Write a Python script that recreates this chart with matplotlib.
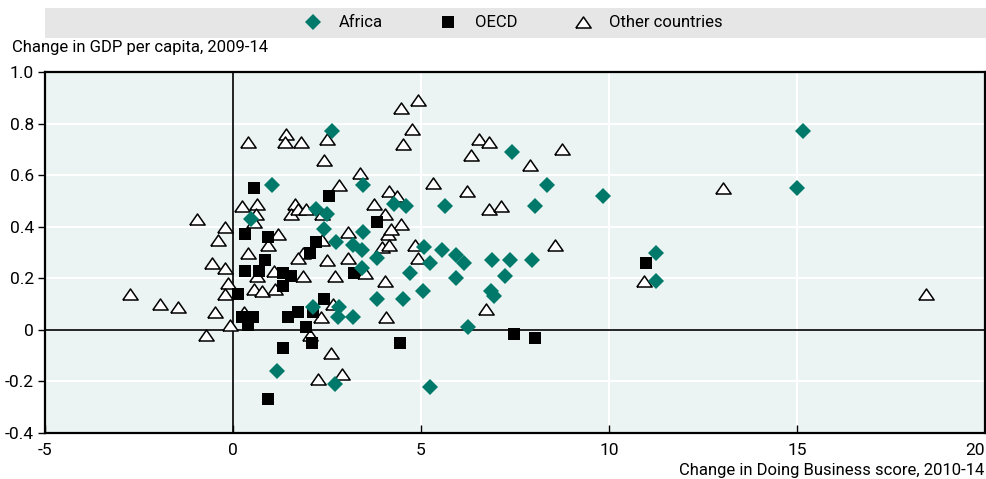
import matplotlib
matplotlib.use('Agg')
import matplotlib.pyplot as plt
from matplotlib.patches import Rectangle

plt.rcParams['font.family'] = ['Roboto', 'DejaVu Sans']

# Africa
africa_x = [2.62, 1.05, 3.47, 0.47, 2.22, 2.51, 2.41, 3.47, 2.75, 3.20, 3.42, 3.42, 2.14, 2.81,
            2.78, 3.20, 1.16, 2.70, 7.43, 8.34, 9.83, 4.27, 4.61, 5.63, 8.02, 3.84, 5.07, 5.57,
            5.92, 6.13, 5.25, 4.72, 5.92, 6.88, 7.36, 7.94, 7.22, 6.85, 6.95, 5.04, 4.53, 3.84,
            6.24, 5.25, 15.15, 15.00, 11.24, 11.25]
africa_y = [0.77, 0.56, 0.56, 0.43, 0.47, 0.45, 0.39, 0.38, 0.34, 0.33, 0.31, 0.24, 0.09, 0.09,
            0.05, 0.05, -0.16, -0.21, 0.69, 0.56, 0.52, 0.49, 0.48, 0.48, 0.48, 0.28, 0.32, 0.31,
            0.29, 0.26, 0.26, 0.22, 0.20, 0.27, 0.27, 0.27, 0.21, 0.15, 0.13, 0.15, 0.12, 0.12,
            0.01, -0.22, 0.77, 0.55, 0.30, 0.19]

# OECD
oecd_x = [0.57, 2.54, 0.33, 0.92, 2.22, 2.06, 0.84, 0.33, 0.68, 1.34, 1.53, 3.23, 1.34, 0.12,
          2.41, 1.72, 1.45, 2.14, 0.25, 0.52, 0.39, 1.93, 2.09, 1.34, 0.92, 3.84, 4.45, 7.46,
          8.02, 10.97]
oecd_y = [0.55, 0.52, 0.37, 0.36, 0.34, 0.30, 0.27, 0.23, 0.23, 0.22, 0.21, 0.22, 0.17, 0.14,
          0.12, 0.07, 0.05, 0.07, 0.05, 0.05, 0.02, 0.01, -0.05, -0.07, -0.27, 0.42, -0.05, -0.015,
          -0.03, 0.26]

# Other countries
other_x = [0.41, 1.40, 1.37, 1.80, 2.51, 2.41, 3.39, 2.81,
           0.25, 0.63, 0.60, 0.55, 1.64, 1.53, 1.74, 1.93, 2.38, 3.07, 2.38, 1.85, 1.72, 2.51,
           3.07, 2.70, 3.52,
           -0.97, -0.20, -0.41, -0.57, -0.20, -0.12, -0.20, -1.47, -0.47, -0.07, -2.75, -1.95, -0.73,
           1.21, 0.92, 0.41, 0.63, 1.08, 1.85, 0.55, 0.78, 1.13, 2.65, 2.33, 0.28,
           2.04, 2.60, 2.25, 2.91,
           4.48, 4.91, 4.77, 4.53, 6.55, 6.80, 6.34, 7.91, 8.76, 5.31, 6.21, 4.16, 4.35, 3.74,
           6.80, 7.14,
           4.03, 4.48, 4.11, 4.20, 3.95, 4.16, 4.85, 4.91, 4.03, 8.55, 4.08, 6.74,
           13.02, 10.92, 18.44]
other_y = [0.73, 0.76, 0.73, 0.73, 0.74, 0.66, 0.61, 0.56,
           0.48, 0.49, 0.45, 0.42, 0.49, 0.45, 0.47, 0.47, 0.45, 0.38, 0.35, 0.30, 0.28, 0.27,
           0.28, 0.21, 0.22,
           0.43, 0.40, 0.35, 0.26, 0.24, 0.18, 0.14, 0.09, 0.07, 0.02, 0.14, 0.10, -0.02,
           0.37, 0.33, 0.30, 0.21, 0.23, 0.21, 0.16, 0.15, 0.16, 0.10, 0.05, 0.07,
           -0.02, -0.09, -0.19, -0.17,
           0.86, 0.89, 0.78, 0.72, 0.74, 0.73, 0.68, 0.64, 0.70, 0.57, 0.54, 0.54, 0.52, 0.49,
           0.47, 0.48,
           0.45, 0.41, 0.37, 0.39, 0.32, 0.33, 0.33, 0.28, 0.19, 0.33, 0.05, 0.08,
           0.55, 0.19, 0.14]

x_ticks = [-5, 0, 5, 10, 15, 20]
y_ticks = [-0.4, -0.2, 0, 0.2, 0.4, 0.6, 0.8, 1.0]
y_labels = ['-0.4', '-0.2', '0', '0.2', '0.4', '0.6', '0.8', '1.0']

teal = '#00796A'
# wide, flat triangle marker
tri = [(-1, -0.72), (1, -0.72), (0, 0.72), (-1, -0.72)]

fig = plt.figure(figsize=(9.86, 4.79), dpi=100)
ax = fig.add_axes([0.0456, 0.096, 0.9535, 0.7537])
ax.set_facecolor('#EBF4F2')

# legend band
fig.patches.append(Rectangle((0.0456, 0.921), 0.9544, 0.062, transform=fig.transFigure,
                             facecolor='#E6E6E6', edgecolor='none', zorder=0))

for v in y_ticks:
    ax.axhline(v, color='white', lw=1.5, zorder=1)
for v in [5, 10, 15]:
    ax.axvline(v, color='white', lw=1.5, zorder=1)
ax.axhline(0, color='black', lw=1.2, zorder=2)
ax.axvline(0, color='black', lw=1.2, zorder=2)

ax.plot(other_x, other_y, linestyle='none', marker=tri, ms=11, mfc='white', mec='black',
        mew=1.1, zorder=3, label='Other countries')
ax.plot(oecd_x, oecd_y, linestyle='none', marker='s', ms=8, mfc='black', mec='black',
        mew=0, zorder=4, label='OECD')
ax.plot(africa_x, africa_y, linestyle='none', marker='D', ms=8.3, mfc=teal, mec=teal,
        mew=0, zorder=4, label='Africa')

ax.set_xlim(-5, 20)
ax.set_ylim(-0.4, 1.0)
ax.set_xticks(x_ticks)
ax.set_xticklabels([str(t) for t in x_ticks])
ax.get_xticklabels()[-1].set_ha('right')
ax.set_yticks(y_ticks)
ax.set_yticklabels(y_labels)
ax.tick_params(axis='x', direction='in', length=6, width=1, labelsize=12.5, pad=7)
ax.tick_params(axis='y', direction='out', length=5, width=1, labelsize=12.5, pad=3)
for s in ax.spines.values():
    s.set_linewidth(1.6)
    s.set_color('black')

handles, labels = ax.get_legend_handles_labels()
order = [2, 1, 0]
fig.legend([handles[i] for i in order], [labels[i] for i in order], loc='center',
           bbox_to_anchor=(0.52, 0.952), ncol=3, frameon=False, fontsize=12,
           handletextpad=1.0, columnspacing=3.3, handlelength=1.2)

fig.text(0.012, 0.9, 'Change in GDP per capita, 2009-14', fontsize=12, va='center', ha='left')
fig.text(0.998, 0.018, 'Change in Doing Business score, 2010-14', fontsize=12, va='center',
         ha='right')

fig.savefig('out.png', dpi=100)
